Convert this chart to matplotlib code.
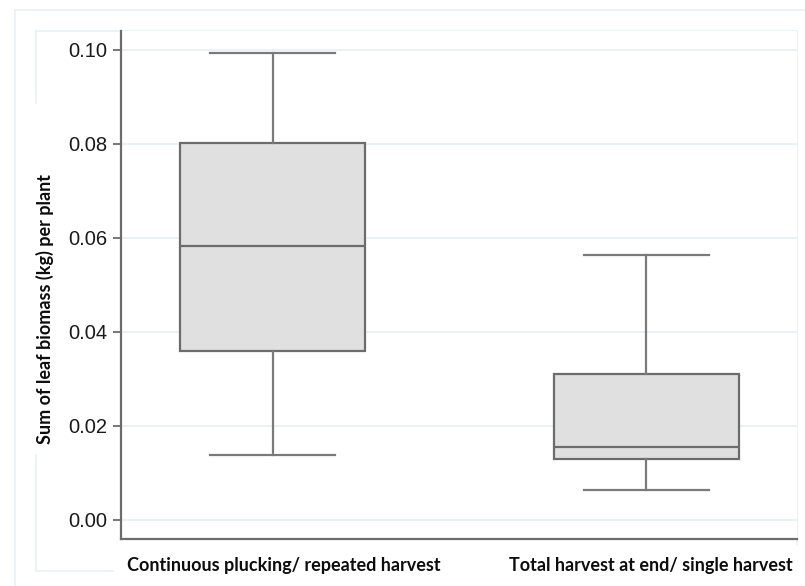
import matplotlib.pyplot as plt
from matplotlib.lines import Line2D

# leaf biomass summary per harvest regime (kg per plant)
groups = ["Continuous plucking/ repeated harvest", "Total harvest at end/ single harvest"]
whisker_low = [0.0138, 0.0063]
q1 = [0.0359, 0.0128]
median = [0.0582, 0.0154]
q3 = [0.0802, 0.0310]
whisker_high = [0.0993, 0.0563]
yticks = [0.00, 0.02, 0.04, 0.06, 0.08, 0.10]

W, H = 805, 586
fig = plt.figure(figsize=(W / 100, H / 100), dpi=100)
ax = fig.add_axes([121 / W, 1 - 538.5 / H, (797 - 121) / W, (538.5 - 30.7) / H])

stats = []
for i in range(len(groups)):
    stats.append(dict(med=median[i], q1=q1[i], q3=q3[i],
                      whislo=whisker_low[i], whishi=whisker_high[i], fliers=[]))

edge = "#6c6c6c"
ax.bxp(stats, positions=[1, 2], widths=0.495, capwidths=0.335, patch_artist=True,
       showfliers=False,
       boxprops=dict(facecolor="#e0e0e0", edgecolor=edge, linewidth=1.6),
       medianprops=dict(color=edge, linewidth=1.6),
       whiskerprops=dict(color="#7a7a7a", linewidth=1.6),
       capprops=dict(color="#7a7a7a", linewidth=1.6))

ax.set_xlim(0.5944, 2.404)
ax.set_ylim(-0.00404, 0.104)
ax.set_yticks(yticks)
ax.set_yticklabels([f"{v:.2f}" for v in yticks], fontfamily="Liberation Sans",
                   fontsize=14.5, color="#1a1a1a")
ax.set_xticks([])
ax.tick_params(axis="y", direction="out", length=6, width=1.3, color=edge, pad=4)
ax.yaxis.grid(True, color="#e6f1f5", linewidth=1.3)
ax.set_axisbelow(True)
for s in ["top", "right"]:
    ax.spines[s].set_visible(False)
for s in ["left", "bottom"]:
    ax.spines[s].set_color(edge)
    ax.spines[s].set_linewidth(1.6)

# plot region border
for xv in [143, 776]:
    fig.add_artist(Line2D([xv / W, xv / W], [1 - 49.5 / H, 1 - 519.5 / H],
                          color="#e6f1f5", linewidth=1.3, zorder=0))

# faint graph region frames
frame = "#e8f2f6"
segs = [((15, 10), (805, 10)), ((15, 10), (15, 586)),
        ((36, 31), (797, 31)), ((36, 31), (36, 103)),
        ((36, 455), (36, 571)), ((36, 571), (113, 571)),
        ((797, 31), (797, 545))]
for (x0, y0), (x1, y1) in segs:
    fig.add_artist(Line2D([x0 / W, x1 / W], [1 - y0 / H, 1 - y1 / H],
                          color=frame, linewidth=1.3, zorder=0))

# category labels (set slightly right of each box) and axis title
lab_font = dict(fontfamily="Lato", fontweight="bold", fontsize=13, color="#0d0d0d")
label_shift = [0.031, 0.013]
for i, g in enumerate(groups):
    ax.text(i + 1 + label_shift[i], -0.0097, g, ha="center", va="center", **lab_font)
fig.text(45 / W, 1 - 309 / H, "Sum of leaf biomass (kg) per plant", rotation=90,
         ha="center", va="center", **lab_font)

fig.savefig("out.png", dpi=100)
